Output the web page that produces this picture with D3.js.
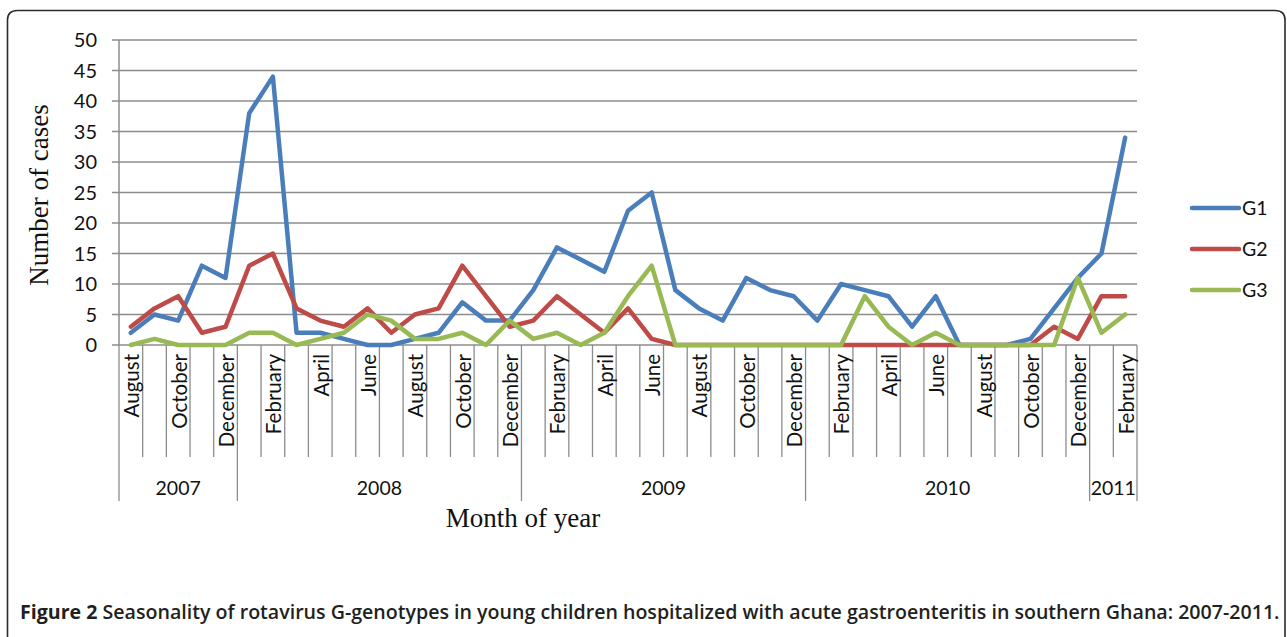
<!DOCTYPE html>
<html>
<head>
<meta charset="utf-8">
<script src="https://cdn.jsdelivr.net/npm/d3@7"></script>
<style>
  html, body { margin: 0; padding: 0; background: #fff; }
  svg { display: block; }
</style>
</head>
<body>
<svg id="chart" width="1287" height="637"></svg>
<script>
const monthNames = [
  "August","September","October","November","December",
  "January","February","March","April","May","June","July","August","September","October","November","December",
  "January","February","March","April","May","June","July","August","September","October","November","December",
  "January","February","March","April","May","June","July","August","September","October","November","December",
  "January","February"
];
const yearOfMonth = [
  2007,2007,2007,2007,2007,
  2008,2008,2008,2008,2008,2008,2008,2008,2008,2008,2008,2008,
  2009,2009,2009,2009,2009,2009,2009,2009,2009,2009,2009,2009,
  2010,2010,2010,2010,2010,2010,2010,2010,2010,2010,2010,2010,
  2011,2011
];
const seriesNames = ["G1","G2","G3"];
const g1 = [2,5,4,13,11, 38,44,2,2,1,0,0,1,2,7,4,4, 9,16,14,12,22,25,9,6,4,11,9,8, 4,10,9,8,3,8,0,0,0,1,6,11, 15,34];
const g2 = [3,6,8,2,3, 13,15,6,4,3,6,2,5,6,13,8,3, 4,8,5,2,6,1,0,0,0,0,0,0, 0,0,0,0,0,0,0,0,0,0,3,1, 8,8];
const g3 = [0,1,0,0,0, 2,2,0,1,2,5,4,1,1,2,0,4, 1,2,0,2,8,13,0,0,0,0,0,0, 0,0,8,3,0,2,0,0,0,0,0,11, 2,5];
const yTicks = [0,5,10,15,20,25,30,35,40,45,50];
const colors = ["#4A7EBB","#BE4B48","#98B954"];

const svg = d3.select("#chart");
const sans = "Lato, 'Open Sans', sans-serif";
const serif = "'Liberation Serif', 'DejaVu Serif', serif";
const gridColor = "#8c8c8c";

// frame
svg.append("path")
  .attr("d", "M7.5,660 L7.5,20 Q7.5,10.5 17.5,10.5 L1275,10.5 Q1285,10.5 1285,20 L1285,660")
  .attr("fill","none").attr("stroke","#2b2b2b").attr("stroke-width",1.6);

const idx = d3.range(monthNames.length);
const x = d3.scaleBand().domain(idx).range([119, 1137]).paddingInner(0).paddingOuter(0);
const y = d3.scaleLinear().domain([0, 50]).range([345, 40]);

// gridlines
svg.append("g").selectAll("line").data(yTicks).join("line")
  .attr("x1", 112).attr("x2", 1137)
  .attr("y1", d => y(d)).attr("y2", d => y(d))
  .attr("stroke", gridColor).attr("stroke-width", 1.5);

// y axis
const yAxis = d3.axisLeft(y).tickValues(yTicks).tickSize(0).tickPadding(0);
const ya = svg.append("g").attr("transform","translate(97,0)").call(yAxis);
ya.select(".domain").remove();
ya.selectAll("text").attr("font-family", sans).attr("font-size", 20).attr("fill","#111").attr("dy","0.34em");
svg.append("line").attr("x1",119).attr("x2",119).attr("y1",40).attr("y2",345)
  .attr("stroke", gridColor).attr("stroke-width",1.5);

// category boundaries
const yearStarts = idx.filter(i => i === 0 || yearOfMonth[i] !== yearOfMonth[i-1]);
const boundaries = d3.range(monthNames.length + 1);
svg.append("g").selectAll("line").data(boundaries).join("line")
  .attr("x1", i => i < monthNames.length ? x(i) : x.range()[1])
  .attr("x2", i => i < monthNames.length ? x(i) : x.range()[1])
  .attr("y1", 345)
  .attr("y2", i => (i === monthNames.length || yearStarts.includes(i)) ? 501 : 457)
  .attr("stroke", gridColor).attr("stroke-width", 1.3);

// month labels (every other)
svg.append("g").selectAll("text").data(idx.filter(i => i % 2 === 0)).join("text")
  .attr("transform", i => `translate(${x(i) + x.bandwidth()/2 + 1},354) rotate(-90)`)
  .attr("text-anchor","end").attr("dy","0.36em")
  .attr("font-family", sans).attr("font-size", 20.5).attr("fill","#111")
  .text(i => monthNames[i]);

// year labels
const yearGroups = d3.groups(idx, i => yearOfMonth[i]);
svg.append("g").selectAll("text").data(yearGroups).join("text")
  .attr("x", d => (x(d[1][0]) + x(d[1][d[1].length-1]) + x.bandwidth())/2)
  .attr("y", 488).attr("dy","0.36em").attr("text-anchor","middle")
  .attr("font-family", sans).attr("font-size", 19.5).attr("fill","#111")
  .text(d => d[0]);

// titles
svg.append("text").attr("x", 523).attr("y", 527).attr("text-anchor","middle")
  .attr("font-family", serif).attr("font-size", 27).attr("fill","#111").text("Month of year");
svg.append("text").attr("transform","translate(48,195) rotate(-90)").attr("text-anchor","middle")
  .attr("font-family", serif).attr("font-size", 27).attr("fill","#111").text("Number of cases");

// lines
const series = [g1, g2, g3];
const line = d3.line().x((d,i) => x(i) + x.bandwidth()/2).y(d => y(d));
series.forEach((s, k) => {
  svg.append("path").datum(s).attr("d", line)
    .attr("fill","none").attr("stroke", colors[k]).attr("stroke-width", 4.5)
    .attr("stroke-linejoin","round").attr("stroke-linecap","round");
});

// legend
const lg = svg.append("g").selectAll("g").data(seriesNames).join("g")
  .attr("transform", (d,k) => `translate(1192,${208 + k*41})`);
lg.append("line").attr("x1",0).attr("x2",47).attr("stroke",(d,k)=>colors[k])
  .attr("stroke-width",4.5).attr("stroke-linecap","round");
lg.append("text").attr("x",50).attr("dy","0.36em").attr("font-family",sans)
  .attr("font-size",19.5).attr("fill","#111").text(d => d);

// caption
const cap = svg.append("text").attr("x", 20).attr("y", 619)
  .attr("font-family", "'Open Sans', sans-serif").attr("font-size", 19.6).attr("fill","#231f20");
cap.append("tspan").attr("font-weight", 700).text("Figure 2");
cap.append("tspan").attr("font-weight", 600).text(" Seasonality of rotavirus G-genotypes in young children hospitalized with acute gastroenteritis in southern Ghana: 2007-2011.");
</script>
</body>
</html>
